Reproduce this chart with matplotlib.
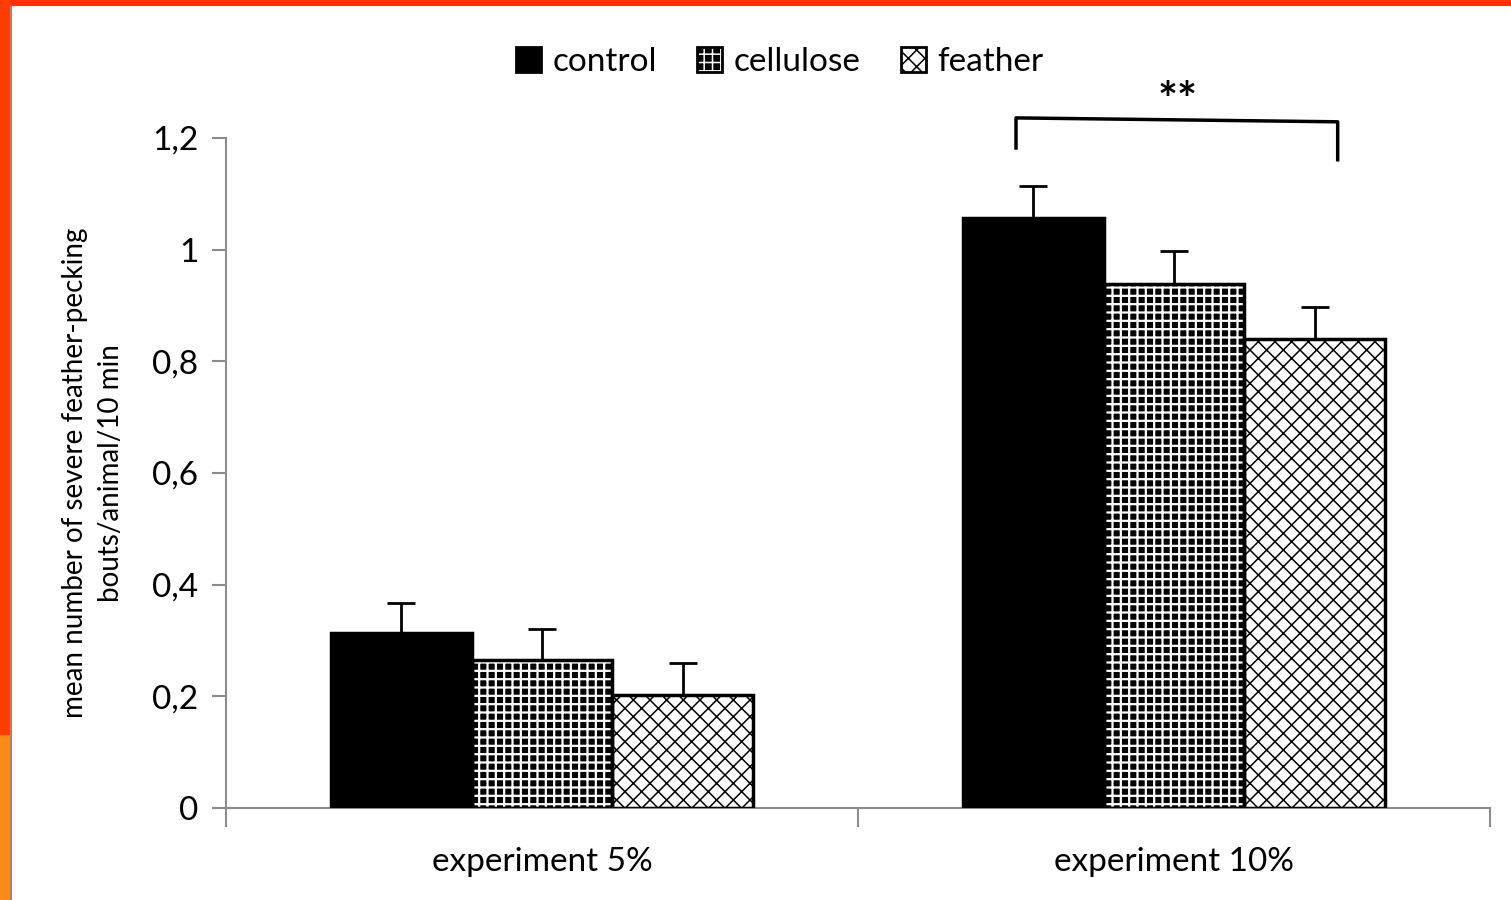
import matplotlib.pyplot as plt
from matplotlib.patches import Rectangle
import numpy as np

plt.rcParams['font.family'] = ['Lato', 'DejaVu Sans']

groups = ['experiment 5%', 'experiment 10%']
series = ['control', 'cellulose', 'feather']
means = {
    'control': [0.313, 1.057],
    'cellulose': [0.265, 0.939],
    'feather': [0.202, 0.840],
}
errors = {
    'control': [0.054, 0.057],
    'cellulose': [0.056, 0.059],
    'feather': [0.058, 0.057],
}
# face colour, hatch colour, hatch, hatch line width
styles = {
    'control': ('black', 'black', None, 1.0),
    'cellulose': ('black', 'white', '++', 1.6),
    'feather': ('white', 'black', 'xx', 1.1),
}

fig = plt.figure(figsize=(15.11, 9.0), dpi=100)
ax = fig.add_axes([226 / 1511, 1 - 808 / 900, 1264 / 1511, 670 / 900])

# frame stripes along the top and left edge
fig.patches.append(Rectangle((0, 1 - 6 / 900), 1, 6 / 900, transform=fig.transFigure,
                             facecolor='#ff3300', edgecolor='none'))
fig.patches.append(Rectangle((0, 1 - 735 / 900), 10 / 1511, 735 / 900, transform=fig.transFigure,
                             facecolor='#ff3d00', edgecolor='none'))
fig.patches.append(Rectangle((0, 0), 10 / 1511, 1 - 735 / 900, transform=fig.transFigure,
                             facecolor='#ff8a1a', edgecolor='none'))
fig.lines.append(plt.Line2D([10.5 / 1511, 10.5 / 1511], [0, 1 - 6 / 900], transform=fig.transFigure,
                            color='#8c8c8c', linewidth=1.5))

x = np.arange(len(groups))
width = 0.223
for i, s in enumerate(series):
    pos = x + (i - 1) * width
    face, hcol, hatch, hlw = styles[s]
    plt.rcParams['hatch.linewidth'] = hlw
    # fill + hatch first, then the black outline on top
    ax.bar(pos, means[s], width, color=face, hatch=hatch, edgecolor=hcol,
           linewidth=0, zorder=3)
    ax.bar(pos, means[s], width, facecolor='none', edgecolor='black',
           linewidth=2.5, zorder=3.5)
    ax.errorbar(pos, means[s], yerr=[np.zeros(2), errors[s]], fmt='none',
                ecolor='black', elinewidth=2, capsize=10, capthick=2, zorder=4)

ax.set_xlim(-0.5, 1.5)
ax.set_ylim(0, 1.2)
ax.set_yticks([0, 0.2, 0.4, 0.6, 0.8, 1.0, 1.2])
ax.set_yticklabels(['0', '0,2', '0,4', '0,6', '0,8', '1', '1,2'], fontsize=24)
ax.set_xticks([-0.5, 0.5, 1.5], minor=False)
ax.set_xticklabels([])
ax.set_xticks(x, minor=True)
ax.set_xticklabels(groups, minor=True, fontsize=24)
ax.tick_params(axis='x', which='minor', length=0, pad=28)
ax.tick_params(axis='x', which='major', length=14, width=1.5, color='#8c8c8c', direction='out')
ax.tick_params(axis='y', length=10, width=1.5, color='#8c8c8c', pad=10)

for side in ['top', 'right']:
    ax.spines[side].set_visible(False)
for side in ['left', 'bottom']:
    ax.spines[side].set_color('#8c8c8c')
    ax.spines[side].set_linewidth(1.5)

ax.set_ylabel('mean number of severe feather-pecking\nbouts/animal/10 min',
              fontsize=20, labelpad=20, linespacing=1.5)

# significance bracket between control and feather in experiment 10%
ax.plot([0.750, 0.750, 1.259, 1.259], [1.182, 1.236, 1.229, 1.161],
        color='black', linewidth=2.5, clip_on=False)
ax.text(1.005, 1.265, '**', ha='center', va='center', fontsize=34, fontweight='bold')

handles = []
for s in series:
    face, hcol, hatch, hlw = styles[s]
    plt.rcParams['hatch.linewidth'] = hlw
    fill = Rectangle((0, 0), 1, 1, facecolor=face, hatch=hatch, edgecolor=hcol, linewidth=0)
    edge = Rectangle((0, 0), 1, 1, facecolor='none', edgecolor='black', linewidth=2)
    handles.append((fill, edge))
fig.legend(handles, series, loc='center', bbox_to_anchor=(0.516, 1 - 62 / 900), ncol=3,
           frameon=False, fontsize=24, handlelength=0.75, handleheight=0.75,
           handletextpad=0.35, columnspacing=1.2)

fig.savefig('out.png', dpi=100)
